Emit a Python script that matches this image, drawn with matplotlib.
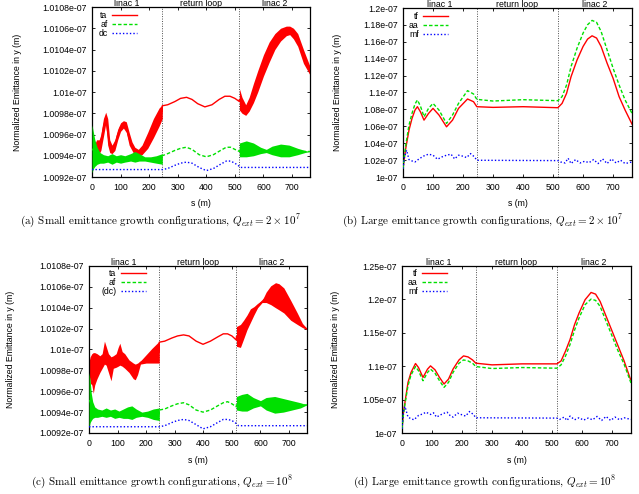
import numpy as np
import matplotlib
matplotlib.use("Agg")
import matplotlib.pyplot as plt

plt.rcParams['font.family'] = ['Liberation Sans', 'DejaVu Sans']
plt.rcParams['mathtext.fontset'] = 'cm'

# sections of the machine (s in m)
sections = ['linac 1', 'return loop', 'linac 2']
bounds = [0, 246, 516, 763]
s_ticks = [0, 100, 200, 300, 400, 500, 600, 700]

# emittance in units of 1e-7 m
# (a) small growth, Qext = 2e7 ; bands = fast oscillation (lower / upper edge)
a_ta_s1 = [0, 8, 16, 25, 31, 40, 48, 55, 62, 70, 80, 90, 100, 110, 120, 130, 140, 150, 162, 175, 195, 215, 235, 246]
a_ta_lo1 = [1.00942, 1.00940, 1.00940, 1.00942, 1.00945, 1.00958, 1.00970, 1.00950, 1.00943, 1.00942, 1.00945, 1.00955,
            1.00963, 1.00966, 1.00962, 1.00950, 1.00945, 1.00940, 1.00940, 1.00941, 1.00947, 1.00957, 1.00968, 1.00975]
a_ta_hi1 = [1.00948, 1.00950, 1.00955, 1.00955, 1.00960, 1.00975, 1.00981, 1.00975, 1.00955, 1.00950, 1.00955, 1.00965,
            1.00971, 1.00973, 1.00972, 1.00962, 1.00953, 1.00948, 1.00946, 1.00950, 1.00962, 1.00975, 1.00985, 1.00988]
a_ta_s2 = [246, 265, 290, 310, 331, 350, 370, 395, 420, 445, 465, 483, 500, 516]
a_ta_y2 = [1.00987, 1.00988, 1.00991, 1.00994, 1.00995, 1.00993, 1.00989, 1.00986, 1.00988, 1.00993, 1.00996, 1.00996,
           1.00994, 1.00991]
a_ta_s3 = [516, 525, 538, 550, 565, 580, 600, 620, 640, 660, 680, 692, 705, 720, 740, 763]
a_ta_lo3 = [1.00983, 1.00980, 1.00978, 1.00982, 1.00990, 1.01000, 1.01015, 1.01028, 1.01040, 1.01048, 1.01053, 1.01054,
            1.01050, 1.01043, 1.01027, 1.01016]
a_ta_hi3 = [1.01003, 1.00995, 1.00988, 1.00995, 1.01008, 1.01020, 1.01035, 1.01047, 1.01055, 1.01060, 1.01062, 1.01062,
            1.01060, 1.01055, 1.01040, 1.01024]

a_af_s1 = [0, 5, 10, 18, 28, 40, 55, 70, 85, 100, 115, 135, 150, 165, 185, 205, 225, 246]
a_af_lo1 = [1.00924, 1.00928, 1.00930, 1.00932, 1.00933, 1.00933, 1.00934, 1.00932, 1.00934, 1.00933, 1.00934, 1.00935,
            1.00934, 1.00935, 1.00935, 1.00934, 1.00933, 1.00932]
a_af_hi1 = [1.00969, 1.00962, 1.00955, 1.00948, 1.00943, 1.00941, 1.00940, 1.00942, 1.00940, 1.00941, 1.00940, 1.00942,
            1.00944, 1.00942, 1.00939, 1.00939, 1.00940, 1.00942]
a_af_s2 = [246, 265, 290, 310, 330, 350, 375, 400, 425, 450, 470, 485, 500, 516]
a_af_y2 = [1.00940, 1.00942, 1.00945, 1.00947, 1.00948, 1.00946, 1.00941, 1.00939, 1.00941, 1.00945, 1.00948, 1.00948,
           1.00946, 1.00944]
a_af_s3 = [516, 540, 565, 590, 610, 630, 660, 690, 720, 745, 763]
a_af_lo3 = [1.00939, 1.00939, 1.00940, 1.00942, 1.00943, 1.00941, 1.00939, 1.00939, 1.00941, 1.00943, 1.00944]
a_af_hi3 = [1.00952, 1.00954, 1.00952, 1.00948, 1.00946, 1.00949, 1.00951, 1.00950, 1.00947, 1.00945, 1.00944]

a_dc_s = [0, 246, 265, 290, 310, 330, 350, 375, 400, 425, 450, 470, 485, 500, 516, 521, 763]
a_dc_y = [1.00927, 1.00927, 1.00928, 1.00931, 1.00933, 1.00934, 1.00933, 1.00929, 1.00926, 1.00928, 1.00932, 1.00935,
          1.00935, 1.00933, 1.00930, 1.00929, 1.00929]

# (c) small growth, Qext = 1e8
c_ta_s1 = [0, 4, 10, 15, 20, 28, 38, 46, 54, 60, 68, 77, 85, 95, 102, 108, 116, 125, 140, 155, 162, 170, 180, 200, 220, 246]
c_ta_lo1 = [1.00978, 1.00968, 1.00966, 1.00958, 1.00966, 1.00972, 1.00978, 1.00982, 1.00986, 1.00985, 1.00978, 1.00970,
            1.00982, 1.00983, 1.00984, 1.00985, 1.00984, 1.00982, 1.00978, 1.00972, 1.00971, 1.00976, 1.00986, 1.00987,
            1.00987, 1.00987]
c_ta_hi1 = [1.00988, 1.00993, 1.00996, 1.00997, 1.00997, 1.00996, 1.00994, 1.00996, 1.01008, 1.01003, 1.00996, 1.00993,
            1.00994, 1.00996, 1.01002, 1.01006, 1.00998, 1.00996, 1.00990, 1.00987, 1.00986, 1.00987, 1.00989, 1.00995,
            1.01001, 1.01008]
c_ta_s2 = [246, 265, 290, 310, 331, 350, 375, 399, 425, 450, 470, 485, 500, 516]
c_ta_y2 = [1.01007, 1.01008, 1.01011, 1.01013, 1.01014, 1.01013, 1.01008, 1.01005, 1.01008, 1.01012, 1.01015, 1.01015,
           1.01013, 1.01009]
c_ta_s3 = [516, 530, 541, 553, 565, 577, 590, 606, 620, 636, 653, 665, 682, 706, 729, 747, 763]
c_ta_lo3 = [1.01003, 1.01002, 1.01010, 1.01019, 1.01026, 1.01033, 1.01040, 1.01045, 1.01045, 1.01043, 1.01040, 1.01038,
            1.01035, 1.01028, 1.01024, 1.01021, 1.01019]
c_ta_hi3 = [1.01022, 1.01024, 1.01028, 1.01033, 1.01039, 1.01041, 1.01044, 1.01047, 1.01055, 1.01061, 1.01064, 1.01063,
            1.01059, 1.01047, 1.01035, 1.01025, 1.01020]

c_af_s1 = [0, 4, 8, 13, 20, 30, 45, 60, 75, 90, 105, 120, 135, 150, 165, 185, 205, 225, 246]
c_af_lo1 = [1.00925, 1.00930, 1.00932, 1.00934, 1.00935, 1.00935, 1.00936, 1.00935, 1.00936, 1.00934, 1.00935, 1.00934,
            1.00934, 1.00933, 1.00935, 1.00936, 1.00935, 1.00933, 1.00932]
c_af_hi1 = [1.00978, 1.00970, 1.00958, 1.00950, 1.00945, 1.00943, 1.00942, 1.00944, 1.00942, 1.00943, 1.00941, 1.00943,
            1.00945, 1.00946, 1.00943, 1.00940, 1.00941, 1.00943, 1.00944]
c_af_s2 = [246, 265, 290, 310, 331, 350, 375, 399, 425, 450, 470, 485, 500, 516]
c_af_y2 = [1.00942, 1.00943, 1.00946, 1.00948, 1.00949, 1.00947, 1.00942, 1.00940, 1.00942, 1.00946, 1.00949, 1.00950,
           1.00948, 1.00945]
c_af_s3 = [516, 535, 553, 575, 600, 620, 650, 680, 710, 740, 763]
c_af_lo3 = [1.00942, 1.00941, 1.00941, 1.00944, 1.00946, 1.00942, 1.00939, 1.00940, 1.00942, 1.00944, 1.00947]
c_af_hi3 = [1.00955, 1.00957, 1.00958, 1.00954, 1.00951, 1.00954, 1.00955, 1.00953, 1.00951, 1.00949, 1.00947]

c_dc_s = [0, 246, 265, 290, 310, 331, 350, 375, 399, 425, 450, 470, 485, 500, 516, 523, 763]
c_dc_y = [1.00926, 1.00926, 1.00927, 1.00930, 1.00932, 1.00933, 1.00932, 1.00928, 1.00924, 1.00926, 1.00930, 1.00933,
          1.00933, 1.00932, 1.00929, 1.00927, 1.00927]

# (b) large growth, Qext = 2e7
b_s = [0, 5, 10, 20, 30, 40, 48, 58, 70, 85, 100, 120, 145, 165, 185, 215, 235, 246, 300, 400, 516,
       530, 545, 560, 580, 600, 615, 630, 645, 660, 680, 700, 720, 740, 763]
b_tf = [1.0099, 1.0238, 1.0357, 1.0555, 1.0693, 1.0792, 1.0832, 1.0772, 1.0673, 1.0752, 1.0812, 1.0733, 1.0594, 1.0673,
        1.0812, 1.0923, 1.0891, 1.0832, 1.0824, 1.0832, 1.0820, 1.0871, 1.0990, 1.1188, 1.1386, 1.1545, 1.1632, 1.1671,
        1.1644, 1.1545, 1.1347, 1.1168, 1.0951, 1.0792, 1.0626]
b_aa = [1.0099, 1.0258, 1.0396, 1.0614, 1.0753, 1.0864, 1.0911, 1.0840, 1.0713, 1.0812, 1.0871, 1.0792, 1.0634, 1.0733,
        1.0871, 1.1022, 1.0982, 1.0919, 1.0899, 1.0915, 1.0903, 1.0951, 1.1089, 1.1307, 1.1525, 1.1703, 1.1802, 1.1853,
        1.1830, 1.1723, 1.1505, 1.1287, 1.1089, 1.0911, 1.0753]
b_mf_s = [0, 5, 12, 20, 30, 40, 55, 70, 85, 100, 115, 130, 145, 160, 172, 185, 200, 212, 225, 238, 246, 516,
          525, 540, 550, 560, 575, 590, 605, 620, 635, 650, 665, 680, 695, 710, 725, 740, 763]
b_mf = [1.0099, 1.0238, 1.0317, 1.0206, 1.0190, 1.0178, 1.0218, 1.0250, 1.0270, 1.0258, 1.0210, 1.0238, 1.0258, 1.0270,
        1.0214, 1.0258, 1.0246, 1.0230, 1.0277, 1.0238, 1.0198, 1.0194, 1.0178, 1.0166, 1.0222, 1.0159, 1.0206, 1.0166,
        1.0186, 1.0170, 1.0206, 1.0159, 1.0214, 1.0159, 1.0214, 1.0166, 1.0198, 1.0159, 1.0178]

# (d) large growth, Qext = 1e8
d_s = [0, 5, 10, 20, 30, 45, 55, 70, 85, 95, 110, 125, 140, 155, 170, 190, 205, 220, 235, 246, 300, 400, 516,
       530, 545, 560, 575, 590, 610, 630, 645, 660, 680, 700, 720, 740, 763]
d_tf = [1.0064, 1.0312, 1.0461, 1.0758, 1.0906, 1.1040, 1.0980, 1.0832, 1.0956, 1.1005, 1.0946, 1.0832, 1.0733, 1.0807,
        1.0956, 1.1094, 1.1154, 1.1139, 1.1094, 1.1045, 1.1020, 1.1035, 1.1035, 1.1079, 1.1228, 1.1401, 1.1624, 1.1797,
        1.1995, 1.2104, 1.2079, 1.1970, 1.1748, 1.1525, 1.1302, 1.1079, 1.0782]
d_aa = [1.0064, 1.0287, 1.0436, 1.0708, 1.0867, 1.0995, 1.0931, 1.0782, 1.0906, 1.0956, 1.0896, 1.0782, 1.0683, 1.0758,
        1.0906, 1.1045, 1.1094, 1.1079, 1.1045, 1.0995, 1.0965, 1.0980, 1.0970, 1.1020, 1.1154, 1.1327, 1.1540, 1.1723,
        1.1921, 1.2005, 1.1985, 1.1896, 1.1673, 1.1451, 1.1228, 1.1030, 1.0748]
d_mf_s = [0, 5, 10, 20, 30, 40, 55, 70, 80, 95, 105, 115, 135, 150, 160, 170, 185, 200, 212, 225, 238, 246, 516,
          525, 540, 550, 560, 575, 590, 605, 620, 635, 650, 665, 680, 695, 710, 725, 740, 763]
d_mf = [1.0064, 1.0337, 1.0396, 1.0238, 1.0213, 1.0198, 1.0263, 1.0287, 1.0312, 1.0277, 1.0302, 1.0238, 1.0287, 1.0312,
        1.0263, 1.0238, 1.0297, 1.0272, 1.0253, 1.0322, 1.0277, 1.0228, 1.0223, 1.0203, 1.0238, 1.0188, 1.0253, 1.0198,
        1.0228, 1.0193, 1.0223, 1.0198, 1.0248, 1.0188, 1.0248, 1.0188, 1.0238, 1.0198, 1.0228, 1.0203]

ac_yticks = [1.0092, 1.0094, 1.0096, 1.0098, 1.0100, 1.0102, 1.0104, 1.0106, 1.0108]
ac_ylabels = ['1.0092e-07', '1.0094e-07', '1.0096e-07', '1.0098e-07', '1.01e-07', '1.0102e-07', '1.0104e-07',
              '1.0106e-07', '1.0108e-07']
b_yticks = [1.00, 1.02, 1.04, 1.06, 1.08, 1.10, 1.12, 1.14, 1.16, 1.18, 1.20]
b_ylabels = ['1e-07', '1.02e-07', '1.04e-07', '1.06e-07', '1.08e-07', '1.1e-07', '1.12e-07', '1.14e-07', '1.16e-07',
             '1.18e-07', '1.2e-07']
d_yticks = [1.00, 1.05, 1.10, 1.15, 1.20, 1.25]
d_ylabels = ['1e-07', '1.05e-07', '1.1e-07', '1.15e-07', '1.2e-07', '1.25e-07']

captions = [r'(a) Small emittance growth configurations, $Q_{ext} = 2 \times 10^7$',
            r'(b) Large emittance growth configurations, $Q_{ext} = 2 \times 10^7$',
            r'(c) Small emittance growth configurations, $Q_{ext} = 10^8$',
            r'(d) Large emittance growth configurations, $Q_{ext} = 10^8$']

RED = '#ff0000'
GREEN = '#00e000'
BLUE = '#0000ff'
DASH = (0, (2.5, 1.5))
DOT = (0, (1, 1.5))
FS = 6.3


def band(ax, parts, color, ls, z):
    # parts: (s, lo, hi) of the bands and (s, y) of the thin parts
    s, lo, hi = [], [], []
    for p in parts:
        s += list(p[0])
        lo += list(p[1])
        hi += list(p[-1])
    s, lo, hi = np.array(s), np.array(lo), np.array(hi)
    line, = ax.plot(s, (lo + hi) / 2, color=color, lw=1.0, ls=ls, zorder=z)
    ax.fill_between(s, lo, hi, color=color, lw=0, zorder=z + 0.5)
    return line


def setup(ax, yticks, ylabels, ylab_x, xlab_y):
    ax.set_xlim(bounds[0], bounds[-1])
    ax.set_ylim(yticks[0], yticks[-1])
    ax.set_xticks(s_ticks)
    ax.set_yticks(yticks)
    ax.set_yticklabels(ylabels)
    ax.tick_params(direction='in', length=2.5, width=0.6, top=True, right=True, labelsize=FS)
    ax.tick_params(axis='x', pad=4)
    ax.tick_params(axis='y', pad=3.5)
    for sp in ax.spines.values():
        sp.set_linewidth(0.9)
    for b in bounds[1:-1]:
        ax.axvline(b, color='0.3', lw=0.7, ls=(0, (1, 1.5)), zorder=1)
    for i, name in enumerate(sections):
        ax.text((bounds[i] + bounds[i + 1]) / 2, 1.004, name, transform=ax.get_xaxis_transform(),
                ha='center', va='baseline', fontsize=FS)
    ax.set_xlabel('s (m)', fontsize=FS)
    ax.set_ylabel('Normalized Emittance in y (m)', fontsize=FS)
    ax.xaxis.set_label_coords(0.5, xlab_y)
    ax.yaxis.set_label_coords(ylab_x, 0.5)


def key(ax, handles, labels, x, y):
    ax.legend(handles, labels, loc='upper right', bbox_to_anchor=(x, y), markerfirst=False, frameon=False,
              handlelength=2.85, handletextpad=0.5, labelspacing=0.0, borderaxespad=0, borderpad=0, fontsize=FS)


fig = plt.figure(figsize=(6.39, 4.94), dpi=100)
ax_a = fig.add_axes([92 / 639, 1 - 177 / 494, 218 / 639, 170 / 494])
ax_b = fig.add_axes([403 / 639, 1 - 177 / 494, 229 / 639, 169 / 494])
ax_c = fig.add_axes([89 / 639, 1 - 433 / 494, 218 / 639, 167 / 494])
ax_d = fig.add_axes([402 / 639, 1 - 433 / 494, 229 / 639, 167 / 494])

# (a)
h1 = band(ax_a, [(a_ta_s1, a_ta_lo1, a_ta_hi1), (a_ta_s2, a_ta_y2), (a_ta_s3, a_ta_lo3, a_ta_hi3)], RED, '-', 2)
h2 = band(ax_a, [(a_af_s1, a_af_lo1, a_af_hi1), (a_af_s2, a_af_y2), (a_af_s3, a_af_lo3, a_af_hi3)], GREEN, DASH, 3)
h3, = ax_a.plot(a_dc_s, a_dc_y, color=BLUE, lw=1.0, ls=DOT, zorder=4)
setup(ax_a, ac_yticks, ac_ylabels, -0.321, -0.129)
key(ax_a, [h1, h2, h3], ['ta', 'af', 'dc'], 0.206, 0.975)

# (b)
h1, = ax_b.plot(b_s, b_tf, color=RED, lw=1.0, zorder=2)
h2, = ax_b.plot(b_s, b_aa, color=GREEN, lw=1.0, ls=DASH, zorder=3)
h3, = ax_b.plot(b_mf_s, b_mf, color=BLUE, lw=1.0, ls=DOT, zorder=4)
setup(ax_b, b_yticks, b_ylabels, -0.266, -0.129)
key(ax_b, [h1, h2, h3], ['tf', 'aa', 'mf'], 0.197, 0.975)

# (c)
h1 = band(ax_c, [(c_ta_s1, c_ta_lo1, c_ta_hi1), (c_ta_s2, c_ta_y2), (c_ta_s3, c_ta_lo3, c_ta_hi3)], RED, '-', 2)
h2 = band(ax_c, [(c_af_s1, c_af_lo1, c_af_hi1), (c_af_s2, c_af_y2), (c_af_s3, c_af_lo3, c_af_hi3)], GREEN, DASH, 3)
h3, = ax_c.plot(c_dc_s, c_dc_y, color=BLUE, lw=1.0, ls=DOT, zorder=4)
setup(ax_c, ac_yticks, ac_ylabels, -0.339, -0.136)
key(ax_c, [h1, h2, h3], ['ta', 'af', '(dc)'], 0.26, 0.98)

# (d)
h1, = ax_d.plot(d_s, d_tf, color=RED, lw=1.0, zorder=2)
h2, = ax_d.plot(d_s, d_aa, color=GREEN, lw=1.0, ls=DASH, zorder=3)
h3, = ax_d.plot(d_mf_s, d_mf, color=BLUE, lw=1.0, ls=DOT, zorder=4)
setup(ax_d, d_yticks, d_ylabels, -0.271, -0.136)
key(ax_d, [h1, h2, h3], ['tf', 'aa', 'mf'], 0.197, 0.98)

cap_pos = [(160, 221), (483, 221), (162, 482), (485, 482)]
for (cx, cy), txt in zip(cap_pos, captions):
    fig.text(cx / 639, 1 - cy / 494, txt, ha='center', va='center', fontsize=8, family='cmr10')

fig.savefig('out.png', dpi=100)
